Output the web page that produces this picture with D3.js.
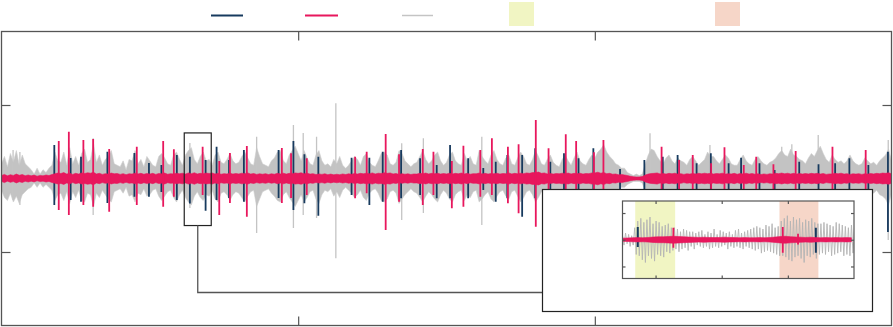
<!DOCTYPE html>
<html><head><meta charset="utf-8">
<script src="https://cdn.jsdelivr.net/npm/d3@7"></script>
<style>html,body{margin:0;padding:0;background:#fff;}svg{display:block;}</style>
</head><body>
<svg id="c" width="893" height="327"></svg>
<script>
// ---------------- DATA ----------------
const timeDomain = [0, 30];          // seconds
const ampDomain = [-100, 100];       // amplitude units
const xTicks = [10, 20];
const yTicks = [-50, 0, 50];

// gray envelope, one sample every 0.1 s (upper / lower extent)
const grayStep = 0.1;
const grayUp = [
 10,15,8,17,11,19,9,16,10,8,  6,3,7,3,6,4,7,9,18,12,  11,18,9,21,10,15,9,17,20,11,
 13,24,11,16,9,13,15,19,10,9,  8,12,6,13,12,19,10,13,8,15,  12,9,8,15,17,14,10,9,16,18,
 13,9,16,19,21,13,10,15,18,12,  13,9,16,18,11,10,13,17,12,10,  11,15,18,14,10,9,21,15,10,9,
 8,12,14,18,19,12,10,16,19,22,  17,12,19,14,10,9,16,19,12,9,  10,8,13,10,15,9,7,9,12,15,
 13,9,15,17,11,9,8,12,17,18,  16,10,9,11,19,17,12,10,8,10,  11,15,19,13,10,12,16,18,12,9,
 11,16,18,12,10,9,17,12,15,10,  9,19,15,12,10,16,19,13,10,9,  14,16,10,9,14,18,15,10,9,13,
 19,15,10,9,13,16,11,9,8,13,  16,12,9,14,18,12,10,9,13,16,  14,18,20,23,18,15,13,10,9,7,
 7,4,3,2,3,2,3,10,16,20,  19,15,12,10,14,16,12,10,14,12,  11,9,13,15,12,9,11,13,18,15,
 15,12,10,13,16,14,10,9,9,13,  16,12,10,9,13,15,12,10,9,11,  12,14,17,19,16,15,20,16,15,13,
 12,10,14,17,15,19,22,17,13,11,  16,13,11,12,10,12,16,12,10,9,  10,14,12,10,11,9,12,14,16,20,
 12];
const grayDn = [
 8,13,15,10,16,12,17,11,9,7,  6,3,6,3,6,4,6,8,15,11,  10,15,9,17,9,13,8,15,16,10,
 11,19,10,13,8,11,14,16,9,8,  7,10,6,12,11,16,10,11,7,12,  11,8,7,12,15,12,9,8,13,16,
 11,8,13,16,18,12,9,13,15,11,  12,8,14,16,10,9,11,15,11,9,  10,13,16,12,9,8,19,14,9,8,
 7,10,12,15,16,11,9,13,16,19,  15,11,16,13,9,8,14,17,11,8,  9,7,12,9,13,8,6,8,10,13,
 11,8,13,15,10,8,7,10,15,16,  14,9,8,10,17,14,11,9,7,9,  10,13,16,12,9,11,14,16,11,8,
 10,14,16,11,9,8,15,11,13,9,  8,16,14,11,9,14,16,12,9,8,  12,14,9,8,12,16,13,9,8,11,
 16,13,9,8,11,14,10,8,7,11,  14,11,8,12,16,11,9,8,11,14,  12,16,17,20,16,13,12,9,8,6,
 6,4,3,2,2,2,3,9,14,16,  16,13,11,9,12,14,11,9,12,11,  10,8,11,13,11,8,10,11,15,13,
 13,11,9,11,14,12,9,8,8,11,  14,11,9,8,11,13,11,9,8,10,  11,12,15,16,14,13,17,14,13,12,
 11,9,12,15,13,16,19,15,12,10,  14,12,10,11,9,11,14,11,9,8,  9,12,11,9,10,8,11,12,14,18,
 10];

// red band half-width, one sample every 0.1 s
const redStep = 0.1;
const redAmp = [
 2,2.8,1.8,2.6,2.1,3,2.2,2.7,1.9,2.4,  1.8,2.3,1.6,2.1,1.8,2.4,2,2.7,3.2,3.7,
 3.4,4,3,3.6,2.8,3.5,3,3.8,3.4,3.9,  3.6,4.2,3.1,3.5,2.8,3.3,3,3.7,3.2,3.4,
 2.8,3.3,2.6,3.2,3,3.6,3.1,3.5,2.9,3.4,  3,3.5,2.8,3.4,3.2,3.7,2.9,3.3,3.1,3.6,
 3.2,3.6,3,3.8,3.3,3.9,3.1,3.5,3.3,3.7,  3.4,3.8,3,3.5,2.9,3.3,3.1,3.6,3,3.4,
 3.1,3.6,3.3,3.8,3,3.4,2.8,3.2,2.9,3.3,  2.7,3.2,2.9,3.5,3.1,3.6,3,3.5,3.3,3.8,
 3.5,3.9,3.2,3.6,3,3.3,2.7,3.1,2.8,3.2,  2.6,3,2.5,2.9,2.6,3.1,2.7,3.2,2.9,3.4,
 3,3.5,3.2,3.6,3.3,3.8,3.1,3.6,3.4,3.9,  3.5,3.8,3.1,3.4,2.8,3.3,2.9,3.2,2.7,3.1,
 3,3.5,3.2,3.7,3.1,3.5,3.3,3.6,3,3.4,  3.1,3.6,3,3.5,3.2,3.7,3.1,3.5,2.9,3.3,
 3.2,3.7,3.1,3.5,3,3.4,3.2,3.6,3,3.4,  3.3,3.8,3.1,3.5,3.2,3.6,3.3,3.8,3.5,4,
 4,4.4,3.5,3.8,3.1,3.4,3,3.4,3.2,3.6,  3.3,3.7,3.1,3.5,3.2,3.6,3,3.4,3.3,3.8,
 3.8,4.3,3.6,4,3.3,3.5,2.9,3.1,2.5,2.8,  2.4,2,1.5,1.2,1,1.1,1.3,2.4,3,3.4,
 3.5,3.8,3.1,3.4,3,3.5,3.2,3.6,3,3.3,  2.8,3.2,3,3.4,3.1,3.5,3.2,3.6,3.3,3.5,
 3,3.4,3.2,3.6,3,3.3,3.1,3.5,2.9,3.4,  3.1,3.6,3,3.4,2.9,3.2,2.7,3.1,2.8,3.2,
 3,3.5,3.3,3.7,3.2,3.6,3.1,3.5,3,3.4,  3,3.4,3.1,3.5,3.2,3.5,3,3.4,2.8,3.1,
 3.1,3.5,3.2,3.6,3,3.3,2.8,3.2,3,3.3,  2.8,3.2,3,3.4,3.1,3.5,3.3,3.7,3.5,3.9,
 3.2];

// spikes: [time, top, bottom]
const darkSpikes = [
 [1.78,22.8,-18.0],[2.33,13.9,-14.6],[2.68,14.8,-15.8],[3.57,18.2,-16.7],[4.48,17.3,-12.4],
 [4.97,10.5,-12.4],[5.39,9.2,-9.2],[5.91,16.0,-14.6],[6.35,14.8,-17.0],[6.88,12.6,-22.0],
 [7.25,21.6,-14.6],[7.67,12.6,-13.3],[8.17,19.4,-15.8],[9.34,19.4,-13.3],[9.84,25.5,-21.4],
 [10.21,16.5,-16.9],[10.68,14.8,-25.3],[11.80,14.1,-11.2],[12.40,14.1,-18.0],[12.85,18.2,-15.8],
 [13.47,19.4,-13.5],[14.11,13.7,-11.2],[14.67,9.2,-13.5],[15.12,22.8,-13.5],[15.73,13.7,-13.5],
 [16.24,7.1,-7.8],[16.66,11.4,-15.8],[17.05,16.0,-13.5],[17.55,16.0,-26.0],[17.99,20.5,-13.5],
 [18.50,11.4,-11.2],[18.96,17.1,-14.6],[19.45,13.7,-14.6],[19.95,20.5,-14.6],[20.85,6.5,-9.2],
 [21.67,12.6,-13.3],[22.29,14.8,-14.6],[22.79,16.0,-14.6],[23.43,10.3,-13.3],[23.91,17.1,-14.6],
 [24.51,10.3,-11.2],[24.93,14.1,-14.6],[25.55,10.3,-11.2],[26.06,5.8,-7.8],[26.89,11.4,-13.3],
 [27.54,9.7,-13.3],[28.10,10.3,-13.3],[28.58,13.7,-14.6],[29.22,9.2,-13.3],[29.88,18.2,-36.4]
];
const redSpikes = [
 [1.93,25.5,-21.4],[2.27,31.8,-24.8],[2.76,26.2,-18.0],[3.09,26.9,-19.2],[3.63,20.1,-22.6],
 [4.56,21.6,-18.0],[5.45,25.5,-19.2],[5.81,19.9,-12.4],[6.78,21.6,-11.2],[7.34,11.9,-24.8],
 [7.70,17.3,-16.7],[8.27,22.1,-26.0],[9.45,20.7,-16.7],[9.76,17.1,-13.3],[10.29,13.7,-11.2],
 [11.92,14.8,-13.5],[12.31,18.2,-10.1],[12.95,30.3,-35.0],[13.40,16.5,-15.8],[14.20,20.1,-18.0],
 [14.56,18.2,-11.2],[15.18,11.9,-20.3],[15.57,22.3,-19.2],[16.14,19.4,-12.4],[16.53,27.3,-11.2],
 [17.07,21.6,-16.9],[17.43,23.3,-23.7],[18.01,39.8,-32.8],[18.44,20.5,-11.2],[19.02,30.1,-11.2],
 [19.37,25.5,-11.2],[19.97,17.8,-11.2],[20.29,26.2,-14.6],[22.25,21.6,-14.6],[22.84,12.6,-13.3],
 [23.30,16.0,-13.3],[23.92,10.3,-11.2],[24.37,21.2,-14.6],[25.02,9.2,-11.2],[25.44,14.8,-13.3],
 [26.02,9.7,-11.2],[26.77,18.7,-13.3],[28.01,21.6,-14.6],[29.13,19.4,-13.3]
];
const grayPeaks = [
 [0.39,19.4,-14.6],[0.62,18,-18],[3.09,27.3,-24.8],[6.35,24.1,-20],[8.60,28.4,-37.1],
 [9.84,36.4,-33.7],[10.17,31,-24.8],[10.62,28.4,-26.9],[11.27,51.2,-54.3],[13.49,23.9,-28.2],
 [14.22,27.3,-23.5],[16.19,28.4,-31.6],[21.86,30.7,-18],[23.88,22.8,-14],[26.30,21.6,-14],
 [26.64,23.3,-14],[27.53,29.6,-16],[29.89,26.2,-41.8]
];

// zoom window (main units) and inset
const zoomT = [6.16, 7.07];
const zoomA = [-32, 31];
const insetAmpDomain = [-29, 29];
const insetXTicks = [6.29, 6.55, 6.81];
const insetYTicks = [-20, 0, 20];
const bandA = [6.21, 6.367];
const bandB = [6.777, 6.93];
const insetStep = 0.006;
const insetGray = [
 3,-4,5,-3,4,-5,3,-4,
 9,-11,14,-12,16,-15,13,-17,15,-12,17,-14,12,-16,14,-11,13,-12,10,-13,11,-9,12,-10,9,
 -8,9,-7,8,-9,6,-7,8,-6,7,-8,6,
 -5,6,-7,5,-4,6,-5,7,-6,4,-5,6,-7,5,-6,8,-5,4,-6,7,-5,6,-4,5,-7,6,-5,4,-6,7,-5,8,-6,5,-7,6,-5,7,-6,
 8,-7,9,-8,10,-7,9,-10,8,-9,11,-8,10,-9,12,-10,9,-11,10,-12,
 14,-12,16,-13,18,-15,14,-16,17,-13,15,-12,16,-14,13,-17,15,-12,14,-13,16,-11,13,-14,12,
 -11,12,-10,13,-11,12,-9,11,-12,10,-11,13,-10,12,-9,11,-12,10,-11,9,-12,11,-10,9
];
const insetRedStep = 0.02;
const insetRedAmp = [1.2,1.3,1.5,1.6,1.5,1.7,2,2.2,2.2,2.4, 2.6,2.4,2.2,2,1.9,1.7,1.9,1.7,1.6,1.7,
 1.9,1.7,1.6,1.5,1.6,1.5,1.5,1.6,1.5,1.7, 2,2.4,2.6,2.3,2.1,1.9,1.7,1.9,1.6,1.5, 1.6,1.5,1.6,1.5,1.6,1.5];
const insetDarkSpikes = [[6.22,9.5,-5.5],[6.92,9,-9.75]];
const insetRedSpikes = [[6.36,9,-6],[6.79,9.5,-9.8],[6.85,4.5,-3.5]];

// ---------------- STYLE / LAYOUT ----------------
const C = {dark:"#173a5e", red:"#e8175d", gray:"#c3c3c3", axis:"#555", box:"#222",
           bandA:"#f1f5c3", bandB:"#f6d6c8"};
const P = {l:1.5, r:891.5, t:31.5, b:325.5};
const I = {l:622.5, r:854, t:201, b:278.5};
const OB = {x:542.5, y:189.5, w:330, h:122};
const connY = 292.5;

const svg = d3.select("#c");
const x = d3.scaleLinear().domain(timeDomain).range([P.l, P.r]);
const y = d3.scaleLinear().domain(ampDomain).range([P.b, P.t]);

svg.append("defs").append("clipPath").attr("id","clipMain")
  .append("rect").attr("x",P.l).attr("y",P.t).attr("width",P.r-P.l).attr("height",P.b-P.t);
svg.select("defs").append("clipPath").attr("id","clipInset")
  .append("rect").attr("x",I.l).attr("y",I.t).attr("width",I.r-I.l).attr("height",I.b-I.t);

function ticks(g, xs, ys, X, Y, B, len){
  const f = a => a.tickFormat("").tickSizeOuter(0);
  g.append("g").attr("transform",`translate(0,${B.t})`).call(f(d3.axisBottom(X).tickValues(xs).tickSize(len)));
  g.append("g").attr("transform",`translate(0,${B.b})`).call(f(d3.axisTop(X).tickValues(xs).tickSize(len)));
  g.append("g").attr("transform",`translate(${B.l},0)`).call(f(d3.axisRight(Y).tickValues(ys).tickSize(len)));
  g.append("g").attr("transform",`translate(${B.r},0)`).call(f(d3.axisLeft(Y).tickValues(ys).tickSize(len)));
  g.selectAll(".domain").remove();
  g.selectAll(".tick line").attr("stroke",C.axis).attr("stroke-width",1.2);
}

// main ticks
ticks(svg.append("g"), xTicks, yTicks, x, y, P, 9);

// main signal
const m = svg.append("g").attr("clip-path","url(#clipMain)");
const grayData = grayUp.map((u,i)=>({t:i*grayStep, up:u, dn:grayDn[i]}));
m.append("path").datum(grayData)
  .attr("d", d3.area().x(d=>x(d.t)).y0(d=>y(-d.dn)).y1(d=>y(d.up)))
  .attr("fill",C.gray).attr("stroke","#cfcfcf").attr("stroke-width",0.6);
m.selectAll(".gp").data(grayPeaks).join("line")
  .attr("x1",d=>x(d[0])).attr("x2",d=>x(d[0])).attr("y1",d=>y(d[1])).attr("y2",d=>y(d[2]))
  .attr("stroke","#c4c4c4").attr("stroke-width",1.3);
m.selectAll(".ds").data(darkSpikes).join("line")
  .attr("x1",d=>x(d[0])).attr("x2",d=>x(d[0])).attr("y1",d=>y(d[1])).attr("y2",d=>y(d[2]))
  .attr("stroke",C.dark).attr("stroke-width",1.8);
const redData = redAmp.map((a,i)=>({t:i*redStep, a}));
m.append("path").datum(redData)
  .attr("d", d3.area().x(d=>x(d.t)).y0(d=>y(-d.a)).y1(d=>y(d.a)))
  .attr("fill",C.red).attr("stroke",C.red).attr("stroke-width",0.6);
m.selectAll(".rs").data(redSpikes).join("line")
  .attr("x1",d=>x(d[0])).attr("x2",d=>x(d[0])).attr("y1",d=>y(d[1])).attr("y2",d=>y(d[2]))
  .attr("stroke",C.red).attr("stroke-width",1.8);

// main frame
svg.append("rect").attr("x",P.l).attr("y",P.t).attr("width",P.r-P.l).attr("height",P.b-P.t)
  .attr("fill","none").attr("stroke",C.axis).attr("stroke-width",1.3);

// zoom rectangle and connector
svg.append("rect").attr("x",x(zoomT[0])).attr("y",y(zoomA[1]))
  .attr("width",x(zoomT[1])-x(zoomT[0])).attr("height",y(zoomA[0])-y(zoomA[1]))
  .attr("fill","none").attr("stroke",C.box).attr("stroke-width",1.2);
const cx = x((zoomT[0]+zoomT[1])/2);
svg.append("path").attr("d",`M${cx},${y(zoomA[0])}V${connY}H${OB.x}`)
  .attr("fill","none").attr("stroke",C.axis).attr("stroke-width",1.3);

// inset
svg.append("rect").attr("x",OB.x).attr("y",OB.y).attr("width",OB.w).attr("height",OB.h)
  .attr("fill","#fff").attr("stroke",C.box).attr("stroke-width",1.2);
const ix = d3.scaleLinear().domain(zoomT).range([I.l, I.r]);
const iy = d3.scaleLinear().domain(insetAmpDomain).range([I.b, I.t]);
const ig = svg.append("g");
const ic = ig.append("g").attr("clip-path","url(#clipInset)");
[[bandA,C.bandA],[bandB,C.bandB]].forEach(([b,col])=>{
  ic.append("rect").attr("x",ix(b[0])).attr("y",I.t).attr("width",ix(b[1])-ix(b[0])).attr("height",I.b-I.t).attr("fill",col);
});
ticks(ig.append("g"), insetXTicks, insetYTicks, ix, iy, I, 3);
ic.append("path").datum(insetGray)
  .attr("d", d3.line().x((d,i)=>ix(zoomT[0]+i*insetStep)).y(d=>iy(d)))
  .attr("fill","none").attr("stroke","#b4b4b4").attr("stroke-width",0.9);
ic.selectAll(".ids").data(insetDarkSpikes).join("line")
  .attr("x1",d=>ix(d[0])).attr("x2",d=>ix(d[0])).attr("y1",d=>iy(d[1])).attr("y2",d=>iy(d[2]))
  .attr("stroke",C.dark).attr("stroke-width",2);
ic.append("path").datum(insetRedAmp)
  .attr("d", d3.area().x((d,i)=>ix(zoomT[0]+i*insetRedStep)).y0(d=>iy(-d)).y1(d=>iy(d)))
  .attr("fill",C.red).attr("stroke",C.red).attr("stroke-width",0.6);
ic.selectAll(".irs").data(insetRedSpikes).join("line")
  .attr("x1",d=>ix(d[0])).attr("x2",d=>ix(d[0])).attr("y1",d=>iy(d[1])).attr("y2",d=>iy(d[2]))
  .attr("stroke",C.red).attr("stroke-width",1.8);
ig.append("rect").attr("x",I.l).attr("y",I.t).attr("width",I.r-I.l).attr("height",I.b-I.t)
  .attr("fill","none").attr("stroke",C.axis).attr("stroke-width",1.2);

// legend (symbols only)
const lg = svg.append("g");
[[211,243,C.dark,2],[305,338,C.red,2],[402,433,"#c4c4c4",1.5]].forEach(([a,b,col,w])=>{
  lg.append("line").attr("x1",a).attr("x2",b).attr("y1",15.5).attr("y2",15.5).attr("stroke",col).attr("stroke-width",w);
});
[[509,C.bandA],[715,C.bandB]].forEach(([a,col])=>{
  lg.append("rect").attr("x",a).attr("y",2).attr("width",25).attr("height",24).attr("fill",col);
});
</script>
</body></html>
